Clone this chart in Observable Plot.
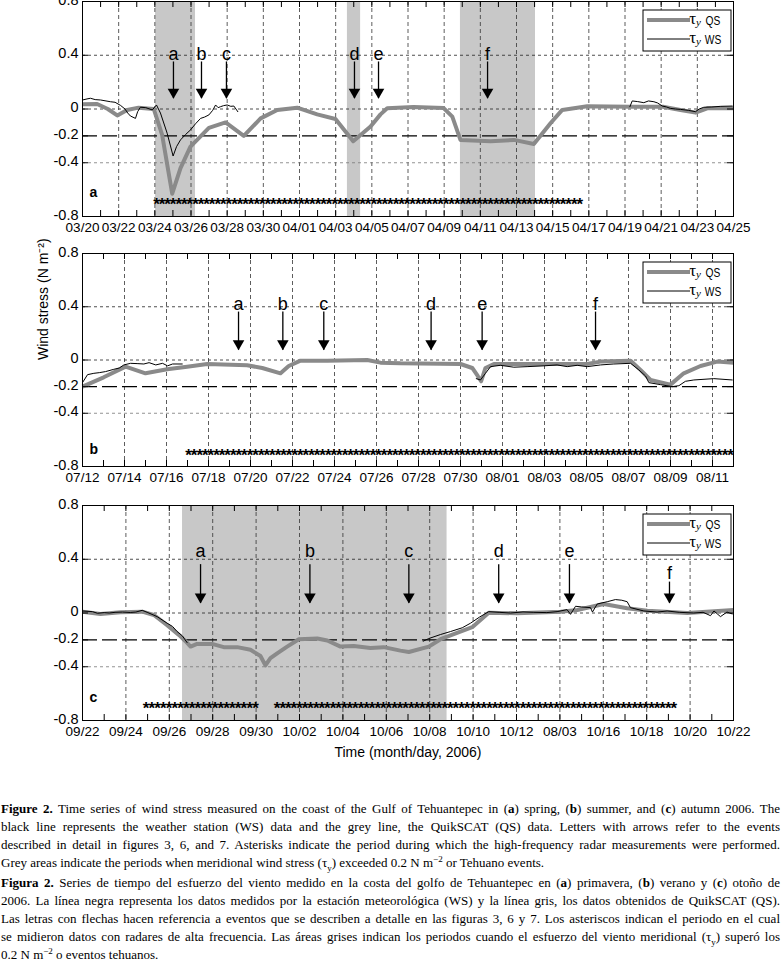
<!DOCTYPE html>
<html><head><meta charset="utf-8">
<script src="https://cdn.jsdelivr.net/npm/d3@7"></script>
<script src="https://cdn.jsdelivr.net/npm/@observablehq/plot@0.6"></script>
<style>
body{margin:0;background:#fff;width:781px;overflow:hidden;}
#charts svg{display:block;}
#caption{font-family:"Liberation Serif","Times New Roman",serif;font-size:13px;line-height:18px;color:#000;margin-top:30px;width:779px;padding-left:1px;}
#caption .l{text-align:justify;text-align-last:justify;}
#caption .gap{margin-top:2px;}
#caption sub,#caption sup{font-size:9px;line-height:0;}
</style></head>
<body>
<div id="charts"></div>
<div id="caption">
<div class="l"><b>Figure 2.</b> Time series of wind stress measured on the coast of the Gulf of Tehuantepec in (<b>a</b>) spring, (<b>b</b>) summer, and (<b>c</b>) autumn 2006. The</div>
<div class="l">black line represents the weather station (WS) data and the grey line, the QuikSCAT (QS) data. Letters with arrows refer to the events</div>
<div class="l">described in detail in figures 3, 6, and 7. Asterisks indicate the period during which the high-frequency radar measurements were performed.</div>
<div>Grey areas indicate the periods when meridional wind stress (τ<sub>y</sub>) exceeded 0.2 N m<sup>−2</sup> or Tehuano events.</div>
<div class="l gap"><b>Figura 2.</b> Series de tiempo del esfuerzo del viento medido en la costa del golfo de Tehuantepec en (<b>a</b>) primavera, (<b>b</b>) verano y (<b>c</b>) otoño de</div>
<div class="l">2006. La línea negra representa los datos medidos por la estación meteorológica (WS) y la línea gris, los datos obtenidos de QuikSCAT (QS).</div>
<div class="l">Las letras con flechas hacen referencia a eventos que se describen a detalle en las figuras 3, 6 y 7. Los asteriscos indican el periodo en el cual</div>
<div class="l">se midieron datos con radares de alta frecuencia. Las áreas grises indican los periodos cuando el esfuerzo del viento meridional (τ<sub>y</sub>) superó los</div>
<div>0.2 N m<sup>−2</sup> o eventos tehuanos.</div>
</div>
<script>
// ---------- DATA (x = days since first tick of each panel, y = wind stress N m^-2) ----------
const yTicks = [0.8, 0.4, 0, -0.2, -0.4, -0.8];
const yGrid = [0.4, 0, -0.4];
const threshold = -0.2;

// Panel a (spring): 03/20 – 04/25
const labelsA = ["03/20","03/22","03/24","03/26","03/28","03/30","04/01","04/03","04/05","04/07","04/09","04/11","04/13","04/15","04/17","04/19","04/21","04/23","04/25"];
const qsA = [[0,0.035],[0.81,0.037],[1.4,0.0],[1.92,-0.048],[2.47,-0.007],[3.1,0.01],[3.94,0.0],[4.4,-0.19],[4.96,-0.63],[5.42,-0.44],[5.97,-0.28],[6.99,-0.14],[7.91,-0.1],[8.92,-0.2],[9.85,-0.07],[10.77,-0.007],[11.87,0.01],[12.98,-0.04],[13.99,-0.074],[14.97,-0.24],[15.93,-0.13],[16.48,-0.04],[16.85,0.005],[18.3,0.015],[19.97,0.007],[20.45,-0.057],[20.9,-0.23],[22.57,-0.24],[23.86,-0.23],[24.96,-0.26],[25.88,-0.106],[26.53,-0.007],[27.91,0.02],[30.3,0.017],[32.1,0.017],[33.07,-0.007],[33.9,-0.027],[34.55,0.005],[36,0.005]];
const wsA1 = [[0,0.067],[0.25,0.075],[0.44,0.08],[0.7,0.07],[1.0,0.067],[1.3,0.06],[1.55,0.054],[1.8,0.05],[2.1,0.027],[2.35,0.0],[2.5,-0.03],[2.65,-0.052],[2.93,-0.07],[3.05,-0.02],[3.2,0.013],[3.5,0.01],[3.86,-0.007],[4.09,0.03],[4.31,-0.03],[4.68,-0.18],[5.01,-0.35],[5.2,-0.28],[5.42,-0.23],[5.7,-0.19],[5.97,-0.156],[6.25,-0.11],[6.53,-0.07],[6.75,-0.06],[6.99,-0.044],[7.2,-0.01],[7.36,0.03],[7.5,0.01],[7.63,0.017],[7.8,0.025],[8.0,0.03],[8.2,0.02],[8.37,0.022],[8.59,-0.02]];
const wsA2 = [[30.27,0.017],[30.4,0.06],[30.7,0.055],[31.04,0.047],[31.3,0.06],[31.6,0.054],[31.8,0.045],[32.06,0.022],[32.3,0.015],[32.5,0.005],[32.8,0.0],[33.07,-0.003],[33.5,-0.01],[33.9,-0.02],[34.1,0.0],[34.36,0.013],[34.8,0.015],[35.3,0.02],[35.93,0.022]];
const shadeA = [[4.04,6.25],[14.65,15.38],[20.9,25.05]];
const radarA = [[4.09,27.5,77]];            // start, end, number of asterisks
const arrowLabelsA = ["a","b","c","d","e","f"];
const arrowDaysA = [5.03,6.58,7.96,15.04,16.37,22.4];
const arrowLetterA = [0.41,0.41,0.41,0.41,0.41,0.41];
const arrowTopA = [0.35,0.35,0.35,0.35,0.35,0.35];
const arrowTipA = [0.077,0.077,0.077,0.077,0.077,0.077];

// Panel b (summer): 07/12 – 08/12
const labelsB = ["07/12","07/14","07/16","07/18","07/20","07/22","07/24","07/26","07/28","07/30","08/01","08/03","08/05","08/07","08/09","08/11"];
const qsB = [[0,-0.2],[1.01,-0.13],[2.05,-0.05],[3.0,-0.1],[4.03,-0.07],[4.98,-0.05],[5.94,-0.03],[7.84,-0.04],[8.56,-0.06],[9.43,-0.1],[9.82,-0.045],[10.38,-0.005],[11.65,-0.005],[13.56,0.0],[14.19,-0.02],[15.14,-0.025],[18.0,-0.03],[18.56,-0.06],[18.82,-0.12],[18.98,-0.16],[19.19,-0.06],[19.59,-0.03],[21.8,-0.03],[24.03,-0.03],[24.67,-0.012],[26.1,-0.005],[26.57,-0.074],[27.05,-0.15],[28.0,-0.185],[28.63,-0.1],[29.43,-0.045],[30.22,-0.012],[31,-0.02]];
const wsB1 = [[0,-0.17],[0.24,-0.11],[0.54,-0.1],[0.8,-0.095],[1.1,-0.087],[1.49,-0.07],[1.75,-0.06],[1.97,-0.037],[2.29,-0.025],[2.6,-0.027],[2.92,-0.03],[3.17,-0.02],[3.49,-0.037],[3.81,-0.025],[4.05,-0.044],[4.29,-0.03],[4.75,-0.03]];
const wsB2 = [[18.75,-0.14],[18.95,-0.15],[19.19,-0.1],[19.43,-0.05],[19.9,-0.04],[20.54,-0.054],[21.17,-0.05],[21.97,-0.044],[22.6,-0.037],[23.08,-0.05],[23.56,-0.04],[24.03,-0.05],[24.67,-0.037],[25.3,-0.03],[26.1,-0.025],[26.49,-0.074],[26.81,-0.12],[26.97,-0.17],[27.52,-0.185],[28.08,-0.2],[28.4,-0.193],[28.71,-0.16],[29.11,-0.15],[30.06,-0.14],[30.94,-0.15]];
const shadeB = [];
const radarB = [[5.05,30.86,98]];
const arrowLabelsB = ["a","b","c","d","e","f"];
const arrowDaysB = [7.43,9.54,11.49,16.6,19.03,24.43];
const arrowLetterB = [0.42,0.42,0.42,0.42,0.42,0.42];
const arrowTopB = [0.36,0.36,0.36,0.36,0.36,0.36];
const arrowTipB = [0.074,0.074,0.074,0.074,0.074,0.074];

// Panel c (autumn): 09/22 – 10/22 (tick label "08/03" as printed in the original)
const labelsC = ["09/22","09/24","09/26","09/28","09/30","10/02","10/04","10/06","10/08","10/10","10/12","08/03","10/16","10/18","10/20","10/22"];
const qsC = [[0,0.01],[0.83,-0.007],[1.75,0.005],[2.75,0.01],[3.29,-0.015],[3.9,-0.09],[4.44,-0.163],[4.75,-0.21],[4.98,-0.25],[5.28,-0.23],[5.97,-0.23],[6.51,-0.254],[7.13,-0.254],[7.74,-0.274],[8.2,-0.32],[8.43,-0.39],[8.66,-0.336],[8.97,-0.3],[9.43,-0.25],[9.97,-0.195],[10.82,-0.19],[11.28,-0.205],[11.89,-0.25],[12.5,-0.245],[13.27,-0.26],[13.88,-0.254],[14.65,-0.28],[15.04,-0.29],[15.96,-0.25],[16.5,-0.195],[17.96,-0.106],[18.72,0.002],[20.03,-0.002],[22.03,0.01],[22.8,0.022],[24.02,0.067],[25.1,0.035],[26.03,0.017],[27.87,0.0],[30,0.022]];
const wsC1 = [[0,0.015],[0.46,0.01],[0.69,-0.002],[1.0,0.003],[1.23,0.0],[1.5,0.005],[1.84,0.007],[2.2,0.004],[2.46,0.007],[2.75,0.02],[2.98,0.005],[3.2,-0.01],[3.44,-0.027],[3.9,-0.076],[4.15,-0.1],[4.36,-0.138],[4.6,-0.17],[4.82,-0.22]];
const wsC2 = [[15.7,-0.21],[15.96,-0.19],[16.5,-0.16],[16.96,-0.138],[17.5,-0.11],[17.88,-0.076],[18.3,-0.03],[18.72,0.01],[19.2,0.005],[19.72,0.0],[20.3,0.008],[20.8,0.005],[21.4,0.003],[21.87,0.01],[22.33,0.025],[22.49,-0.01],[22.72,0.05],[23.0,0.045],[23.41,0.04],[23.5,0.007],[23.72,0.067],[24.18,0.084],[24.56,0.1],[24.85,0.095],[25.1,0.084],[25.25,0.04],[25.87,0.015],[26.48,0.007],[26.94,0.015],[27.5,0.005],[28.17,0.0],[28.6,0.005],[28.94,-0.02],[29.1,0.015],[29.4,-0.027],[29.7,0.007],[29.94,-0.007]];
const shadeC = [[4.61,16.8]];
const radarC = [[2.93,7.97,20],[8.97,27.25,72]];
const arrowLabelsC = ["a","b","c","d","e","f"];
const arrowDaysC = [5.44,10.48,15.04,19.18,22.44,27.05];
const arrowLetterC = [0.46,0.46,0.46,0.46,0.46,0.294];
const arrowTopC = [0.36,0.36,0.36,0.36,0.36,0.23];
const arrowTipC = [0.072,0.072,0.072,0.072,0.072,0.072];

const starY = {a: -0.68, b: -0.69, c: -0.68};

// ---------- DRAWING ----------
const SANS = '"Liberation Sans",Arial,sans-serif';
const SERIF = '"Liberation Serif","Times New Roman",serif';
const NARROW = 0.82;   // horizontal squeeze imitating Arial Narrow
const W = 781, ML = 82, MR = 48;
const fmtY = d => d === 0 ? "0" : (d < 0 ? "-" : "") + Math.abs(d).toFixed(1);

function squeeze(svg) {
  d3.select(svg).selectAll('g[aria-label="narrow"] text').each(function () {
    const t = this.getAttribute("transform") || "";
    this.setAttribute("transform", t + ` scale(${NARROW},1)`);
  });
}

function panel(o) {
  const fh = o.height - o.mt - o.mb;
  const fw = W - ML - MR;
  const qs = o.qs.map(([d, v]) => ({d, v}));
  const ws = o.ws.flatMap((seg, k) => seg.map(([d, v]) => ({d, v, k})));
  const days = d3.range(0, o.ndays + 1);
  const labelData = o.labels.map((t, i) => ({d: i * 2, t}));
  const gridDays = labelData.map(l => l.d);
  const arrows = o.arrowLabels.map((label, i) => ({label, d: o.arrowDays[i], ly: o.arrowLetter[i], top: o.arrowTop[i], tip: o.arrowTip[i]}));
  const stars = o.radar.flatMap(([s, e, n]) => d3.range(n).map(i => s + (e - s) * i / (n - 1)));
  const extra = o.extra || [];
  const svg = Plot.plot({
    width: W, height: o.height,
    marginLeft: ML, marginRight: MR, marginTop: o.mt, marginBottom: o.mb,
    x: {domain: [0, o.ndays], axis: null},
    y: {domain: [-0.8, 0.8], axis: null},
    style: {fontFamily: SANS, fontSize: "13px", overflow: "visible", background: "white", color: "black"},
    marks: [
      Plot.rect(o.shade, {x1: d => d[0], x2: d => d[1], fill: "#c8c8c8"}),
      Plot.ruleX(gridDays, {x: d => d, stroke: "#333", strokeWidth: 0.8, strokeDasharray: "4,3"}),
      Plot.ruleY(yGrid, {y: d => d, stroke: d => d < 0 ? "#777" : "#222", strokeWidth: 0.8, strokeDasharray: "3,3"}),
      Plot.ruleY([threshold], {y: d => d, stroke: "black", strokeWidth: 1.4, strokeDasharray: "15,5"}),
      Plot.line(qs, {x: "d", y: "v", stroke: "#8a8a8a", strokeWidth: 4, strokeLinejoin: "round", strokeLinecap: "butt"}),
      Plot.line(ws, {x: "d", y: "v", z: "k", stroke: "black", strokeWidth: 1}),
      Plot.text(stars, {x: d => d, y: () => o.starY, text: () => "*", fontFamily: SANS, fontWeight: "bold", fontSize: 17, dy: 4}),
      Plot.ruleX(arrows, {x: "d", y1: "top", y2: "tip", stroke: "black", strokeWidth: 1.3}),
      Plot.dot(arrows, {x: "d", y: "tip", symbol: "triangle", rotate: 180, r: 4.3, fill: "black", stroke: "none", dy: -6.6}),
      Plot.text(arrows, {x: "d", y: "ly", text: "label", fontFamily: SANS, fontSize: 18}),
      Plot.frame({stroke: "black", strokeWidth: 1}),
      Plot.tickX(days, {x: d => d, insetBottom: fh - 6, stroke: "black"}),
      Plot.tickX(days, {x: d => d, insetTop: fh - 6, stroke: "black"}),
      Plot.tickY(yTicks, {y: d => d, insetRight: fw - 6, stroke: "black"}),
      Plot.tickY(yTicks, {y: d => d, insetLeft: fw - 6, stroke: "black"}),
      Plot.text(labelData, {x: "d", text: "t", frameAnchor: "bottom", lineAnchor: "top", dy: 6, fontSize: 13.5, ariaLabel: "narrow"}),
      Plot.text(yTicks, {y: d => d, text: fmtY, frameAnchor: "left", textAnchor: "end", dx: -4, dy: -1.5, fontSize: 14.5, ariaLabel: "narrow"}),
      Plot.text([o.letter], {frameAnchor: "bottom-left", textAnchor: "start", dx: 7, dy: o.letterDy, fontFamily: SANS, fontWeight: "bold", fontSize: 14}),
      ...extra
    ]
  });
  squeeze(svg);
  // legend box (top-right inside the frame)
  const g = d3.select(svg).append("g");
  const bx = 643, by = o.mt + 9, bw = 88, bh = 41;
  g.append("rect").attr("x", bx).attr("y", by).attr("width", bw).attr("height", bh)
    .attr("fill", "white").attr("stroke", "black").attr("stroke-width", 1);
  const items = [{name: "QS", color: "#8a8a8a", w: 4, y: by + 10}, {name: "WS", color: "black", w: 1, y: by + 29}];
  for (const it of items) {
    g.append("line").attr("x1", bx + 4).attr("x2", bx + 47).attr("y1", it.y).attr("y2", it.y)
      .attr("stroke", it.color).attr("stroke-width", it.w);
    const t = g.append("text").attr("x", bx + 52).attr("y", it.y + 4).attr("fill", "black").attr("font-family", SERIF);
    t.append("tspan").attr("font-size", 17).text("τ");
    t.append("tspan").attr("font-style", "italic").attr("font-size", 11).attr("dy", 2).text("y");
    g.append("text").attr("transform", `translate(${bx + 70},${it.y + 4.5}) scale(${NARROW},1)`)
      .attr("font-family", SANS).attr("font-size", 12.5).attr("fill", "black").text(it.name);
  }
  document.getElementById("charts").appendChild(svg);
}

panel({height: 240, mt: 1, mb: 24, ndays: 36, labels: labelsA, qs: qsA, ws: [wsA1, wsA2], shade: shadeA, radar: radarA,
  arrowLabels: arrowLabelsA, arrowDays: arrowDaysA, arrowLetter: arrowLetterA, arrowTop: arrowTopA, arrowTip: arrowTipA,
  starY: starY.a, letter: "a", letterDy: -20});
panel({height: 248, mt: 13, mb: 22, ndays: 31, labels: labelsB, qs: qsB, ws: [wsB1, wsB2], shade: shadeB, radar: radarB,
  arrowLabels: arrowLabelsB, arrowDays: arrowDaysB, arrowLetter: arrowLetterB, arrowTop: arrowTopB, arrowTip: arrowTipB,
  starY: starY.b, letter: "b", letterDy: -13,
  extra: [Plot.text(["Wind stress (N m⁻²)"], {frameAnchor: "left", rotate: -90, dx: -39, fontSize: 14, ariaLabel: "narrow"})]});
panel({height: 282, mt: 17, mb: 50, ndays: 30, labels: labelsC, qs: qsC, ws: [wsC1, wsC2], shade: shadeC, radar: radarC,
  arrowLabels: arrowLabelsC, arrowDays: arrowDaysC, arrowLetter: arrowLetterC, arrowTop: arrowTopC, arrowTip: arrowTipC,
  starY: starY.c, letter: "c", letterDy: -19,
  extra: [Plot.text(["Time (month/day, 2006)"], {frameAnchor: "bottom", dy: 36, fontSize: 14, ariaLabel: "narrow"})]});
</script>
</body></html>
